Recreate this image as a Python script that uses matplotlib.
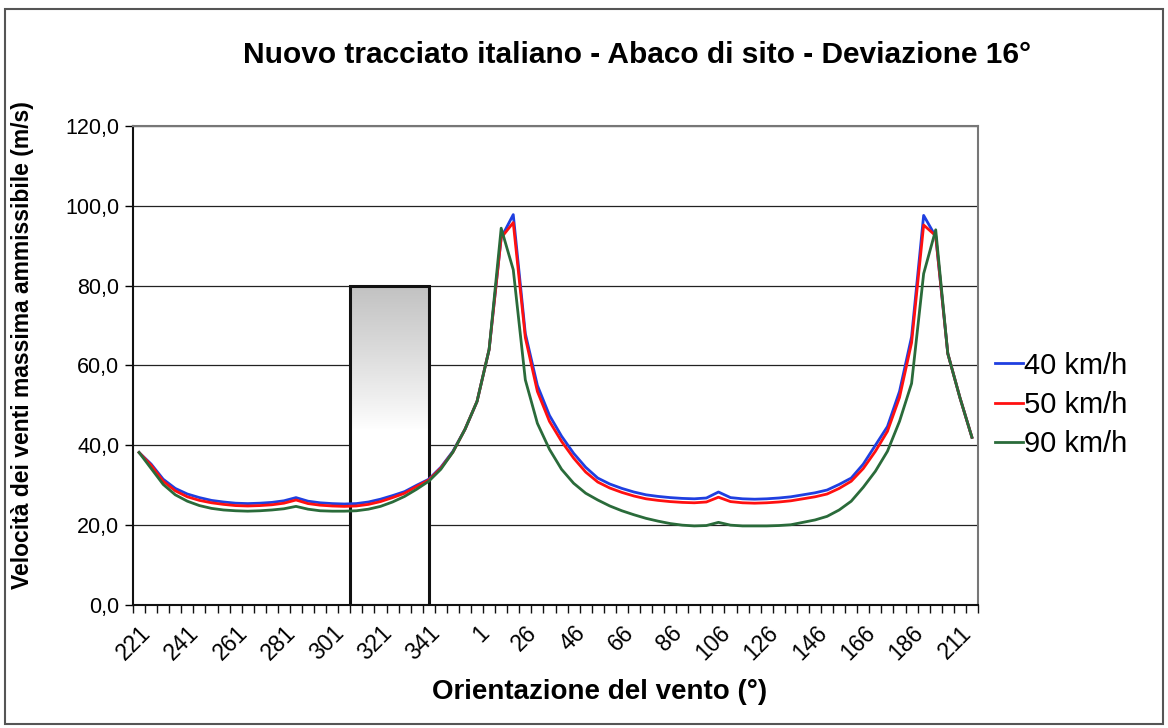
import numpy as np
import matplotlib.pyplot as plt
from matplotlib.patches import Rectangle
from matplotlib.ticker import FuncFormatter, FixedLocator

plt.rcParams['font.family'] = ['Liberation Sans', 'DejaVu Sans']

# orientazioni (categorie dell'asse x)
orientazioni = [221, 226, 231, 236, 241, 246, 251, 256, 261, 266, 271, 276, 281, 286,
                291, 296, 301, 306, 311, 316, 321, 326, 331, 336, 341, 346, 351, 356,
                1, 6, 11, 16, 26, 31, 36, 41, 46, 51, 56, 61, 66, 71, 76, 81, 86, 91,
                96, 101, 106, 111, 116, 121, 126, 131, 136, 141, 146, 151, 156, 161,
                166, 171, 176, 181, 186, 196, 201, 206, 211, 216]

v40 = [38.2, 35.3, 31.5, 29.2, 27.8, 26.9, 26.2, 25.8, 25.5, 25.4, 25.5, 25.7, 26.1, 26.9,
       26.0, 25.6, 25.4, 25.3, 25.4, 25.8, 26.5, 27.4, 28.4, 30.0, 31.5, 34.5, 38.5, 44.0,
       51.0, 64.0, 92.0, 97.8,
       68.0, 55.0, 47.5, 42.3, 38.0, 34.5, 31.8, 30.3, 29.2, 28.3, 27.6, 27.2, 26.9, 26.7,
       26.6, 26.8, 28.3, 26.9, 26.6, 26.5, 26.6, 26.8, 27.1, 27.6, 28.1, 28.8, 30.2, 31.8,
       35.3, 40.0, 44.7, 53.5, 67.2,
       97.6, 92.3, 63.0, 52.0, 42.0]

v50 = [38.2, 35.0, 31.0, 28.6, 27.1, 26.2, 25.6, 25.2, 24.9, 24.8, 24.9, 25.1, 25.5, 26.3,
       25.4, 25.0, 24.8, 24.7, 24.8, 25.2, 25.9, 26.9, 28.0, 29.7, 31.3, 34.3, 38.3, 44.0,
       51.0, 64.0, 92.0, 95.8,
       67.0, 53.5, 46.0, 41.0, 36.8, 33.3, 30.8, 29.3, 28.2, 27.3, 26.6, 26.2, 25.9, 25.7,
       25.6, 25.8, 27.0, 25.9, 25.6, 25.5, 25.6, 25.8, 26.1, 26.6, 27.1, 27.8, 29.2, 31.0,
       34.2, 38.5, 43.5, 52.0, 65.7,
       95.2, 92.5, 63.0, 52.0, 42.0]

v90 = [38.2, 34.2, 30.2, 27.6, 26.0, 24.9, 24.2, 23.8, 23.6, 23.5, 23.6, 23.8, 24.1, 24.7,
       24.0, 23.6, 23.5, 23.5, 23.6, 24.0, 24.7, 25.8, 27.2, 29.0, 31.0, 34.0, 38.3, 44.0,
       51.0, 64.0, 94.4, 84.0,
       56.4, 45.5, 39.0, 34.0, 30.5, 28.0, 26.3, 24.8, 23.6, 22.6, 21.7, 21.0, 20.4, 20.0,
       19.8, 19.9, 20.7, 20.0, 19.8, 19.8, 19.8, 19.9, 20.1, 20.7, 21.3, 22.2, 23.8, 26.0,
       29.5, 33.5, 38.5, 46.0, 55.5,
       83.0, 94.0, 63.0, 52.0, 42.0]

serie = [('40 km/h', v40, '#1f3fe0'), ('50 km/h', v50, '#ff1010'), ('90 km/h', v90, '#2a6b3a')]

# settore evidenziato (in indici di categoria)
settore = (17.5, 24.0, 0.0, 80.0)

fig = plt.figure(figsize=(11.68, 7.28), dpi=100)
ax = fig.add_axes([0.1139, 0.169, 0.8373 - 0.1139, 0.8269 - 0.169])

x = np.arange(len(orientazioni))

# rettangolo con sfumatura: grigio in alto, bianco verso il basso
x0, x1, y0, y1 = settore
t = np.linspace(0, 1, 256)                      # 0 in basso, 1 in alto
g = 1.0 - 0.24 * np.clip((t - 0.55) / 0.45, 0, 1) ** 0.9
img = np.dstack([g, g, g]).reshape(256, 1, 3)
ax.imshow(img, extent=(x0, x1, y0, y1), origin='lower', aspect='auto', zorder=1)
ax.add_patch(Rectangle((x0, y0), x1 - x0, y1 - y0, fill=False, ec='#111111', lw=2.2, zorder=3))

for nome, v, c in serie:
    ax.plot(x, v, color=c, lw=2.0, label=nome, zorder=4)

ax.set_xlim(-0.5, len(orientazioni) - 0.5)
ax.set_ylim(0, 120)
ax.set_yticks(np.arange(0, 121, 20))
ax.yaxis.set_major_formatter(FuncFormatter(lambda v, p: f'{v:.1f}'.replace('.', ',')))
ax.grid(axis='y', color='#222222', lw=0.9, zorder=0)
ax.set_axisbelow(True)

lab_idx = list(range(0, len(orientazioni), 4))
ax.set_xticks(lab_idx)
ax.set_xticklabels([str(orientazioni[i]) for i in lab_idx], rotation=45, ha='right',
                   va='top', rotation_mode='anchor')
ax.xaxis.set_minor_locator(FixedLocator(np.arange(-0.5, len(orientazioni), 1.0)))
ax.tick_params(axis='x', which='major', length=0, labelsize=16.5, pad=12)
ax.tick_params(axis='x', which='minor', length=6, width=1, color='#111111')
ax.tick_params(axis='y', length=6, width=1, labelsize=15.5, pad=4)

for s in ['top', 'right']:
    ax.spines[s].set_color('#777777')
    ax.spines[s].set_linewidth(1.5)
for s in ['left', 'bottom']:
    ax.spines[s].set_color('#111111')
    ax.spines[s].set_linewidth(1.5)

fig.text(0.545, 0.924, 'Nuovo tracciato italiano - Abaco di sito - Deviazione 16°', fontsize=21.5,
         fontweight='bold', ha='center', va='center')
fig.text(0.019, 0.526, 'Velocità dei venti massima ammissibile (m/s)', fontsize=16.5,
         fontweight='bold', rotation=90, ha='center', va='center')
fig.text(0.513, 0.049, 'Orientazione del vento (°)', fontsize=20, fontweight='bold',
         ha='center', va='center')

ax.legend(loc='center left', bbox_to_anchor=(0.842, 0.444), bbox_transform=fig.transFigure,
          frameon=False, fontsize=21, handlelength=0.95, handletextpad=0.05, labelspacing=0.38,
          borderaxespad=0)

fig.patches.append(Rectangle((0.004, 0.006), 0.992, 0.982, transform=fig.transFigure,
                             fill=False, ec='#555555', lw=1.5))

fig.savefig('out.png', dpi=100)
